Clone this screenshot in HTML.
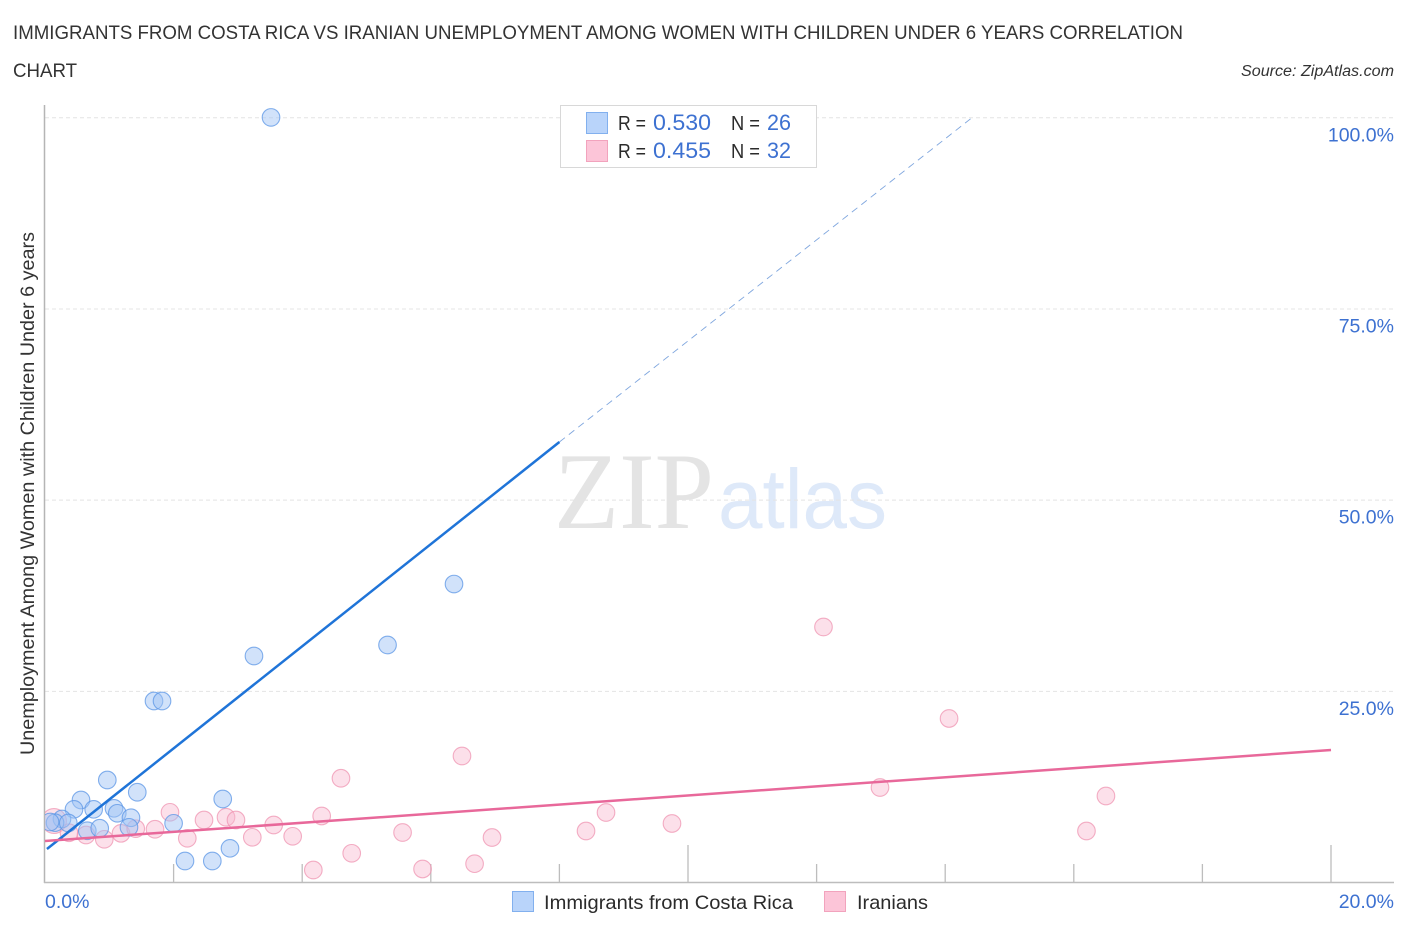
<!DOCTYPE html>
<html lang="en">
<head>
<meta charset="utf-8">
<title>Immigrants from Costa Rica vs Iranian Unemployment Correlation Chart</title>
<style>
html,body{margin:0;padding:0;background:#fff;}
body{width:1406px;height:930px;overflow:hidden;}
svg{display:block;}
text{font-family:"Liberation Sans",sans-serif;}
</style>
</head>
<body>
<svg id="chart" xmlns="http://www.w3.org/2000/svg" width="1406" height="930" viewBox="0 0 1406 930">
  <defs>
    <clipPath id="plot-clip"><rect x="45" y="100" width="1349" height="782"/></clipPath>
  </defs>
  <rect x="0" y="0" width="1406" height="930" fill="#ffffff"/>
  <text x="13" y="39" font-size="19.5" fill="#333333" textLength="1170" lengthAdjust="spacingAndGlyphs">IMMIGRANTS FROM COSTA RICA VS IRANIAN UNEMPLOYMENT AMONG WOMEN WITH CHILDREN UNDER 6 YEARS CORRELATION</text>
  <text x="13" y="77" font-size="19.5" fill="#333333" textLength="64" lengthAdjust="spacingAndGlyphs">CHART</text>
  <text x="1241" y="76" font-size="15.5" font-style="italic" fill="#333333" textLength="153" lengthAdjust="spacingAndGlyphs">Source: ZipAtlas.com</text>
  <g>
    <text x="554" y="528" style="font-family:'Liberation Serif',serif" font-size="109" fill="#e4e4e4" textLength="160" lengthAdjust="spacingAndGlyphs">ZIP</text>
    <text x="718" y="528" font-size="84" fill="#dee9f9" textLength="169" lengthAdjust="spacingAndGlyphs">atlas</text>
  </g>
  <g id="grid"></g>
  <g id="xticks"></g>
  <line x1="44.5" y1="105" x2="44.5" y2="883" stroke="#b5b5b5" stroke-width="1.5"/>
  <line x1="44" y1="882.5" x2="1394" y2="882.5" stroke="#bdbdbd" stroke-width="1.5"/>
  <g id="points" clip-path="url(#plot-clip)"></g>
  <g id="trends"></g>
  <g id="ylabels"></g>
  <g id="xlabels"></g>
  <text transform="translate(34,493.5) rotate(-90)" font-size="19" fill="#333333" text-anchor="middle" textLength="523" lengthAdjust="spacingAndGlyphs">Unemployment Among Women with Children Under 6 years</text>
  <g>
    <rect x="560.5" y="105.5" width="256" height="62" fill="#ffffff" stroke="#d8d8d8" stroke-width="1"/>
    <rect x="586.5" y="112.5" width="21" height="21" fill="#b9d4fa" stroke="#82b0ee" stroke-width="1"/>
    <rect x="586.5" y="140.5" width="21" height="21" fill="#fcc5d8" stroke="#f2a3bd" stroke-width="1"/>
    <text x="618" y="130" font-size="20" fill="#2b2b2b" textLength="28" lengthAdjust="spacingAndGlyphs">R =</text>
    <text x="653" y="130" font-size="22" fill="#3d71d1" textLength="58" lengthAdjust="spacingAndGlyphs">0.530</text>
    <text x="731" y="130" font-size="20" fill="#2b2b2b" textLength="29" lengthAdjust="spacingAndGlyphs">N =</text>
    <text x="767" y="130" font-size="22" fill="#3d71d1" textLength="24" lengthAdjust="spacingAndGlyphs">26</text>
    <text x="618" y="158" font-size="20" fill="#2b2b2b" textLength="28" lengthAdjust="spacingAndGlyphs">R =</text>
    <text x="653" y="158" font-size="22" fill="#3d71d1" textLength="58" lengthAdjust="spacingAndGlyphs">0.455</text>
    <text x="731" y="158" font-size="20" fill="#2b2b2b" textLength="29" lengthAdjust="spacingAndGlyphs">N =</text>
    <text x="767" y="158" font-size="22" fill="#3d71d1" textLength="24" lengthAdjust="spacingAndGlyphs">32</text>
  </g>
  <g>
    <rect x="512.5" y="891.5" width="21" height="20" fill="#b9d4fa" stroke="#82b0ee" stroke-width="1"/>
    <text x="544" y="909" font-size="19.5" fill="#2b2b2b" textLength="249" lengthAdjust="spacingAndGlyphs">Immigrants from Costa Rica</text>
    <rect x="824.5" y="891.5" width="21" height="20" fill="#fcc5d8" stroke="#f2a3bd" stroke-width="1"/>
    <text x="857" y="909" font-size="19.5" fill="#2b2b2b" textLength="71" lengthAdjust="spacingAndGlyphs">Iranians</text>
  </g>
</svg>
<script>
var yTickValues = [25, 50, 75, 100];
var yTickLabels = ["25.0%", "50.0%", "75.0%", "100.0%"];
var xTickValues = [2, 4, 6, 8, 10, 12, 14, 16, 18, 20];
var xTickMajor = [10, 20];
var xEndValues = [0, 20];
var xEndLabels = ["0.0%", "20.0%"];

var costaRicaX = [0.969,1.435,2.764,0.56,0.451,0.757,1.073,1.124,1.337,0.264,0.156,0.362,0.078,0.658,0.851,1.306,2.0,2.177,2.602,2.877,3.515,6.361,5.327,3.25,1.695,1.82];
var costaRicaY = [13.4,11.8,10.92,10.79,9.57,9.57,9.7,9.05,8.47,8.3,7.82,7.78,7.91,6.77,7.09,7.22,7.74,2.81,2.81,4.47,100.05,39.03,31.06,29.62,23.73,23.73];
var costaRicaWeight = [1,1,1,1,1,1,1,1,1,1,1,1,1,1,1,1,1,1,1,1,1,1,1,1,1,1];

var iranianX = [0.14,0.373,0.638,0.922,1.182,1.411,1.711,1.944,2.213,2.473,2.815,2.97,3.224,3.557,3.852,4.303,4.173,4.603,4.77,5.561,5.872,6.485,6.681,6.952,8.414,8.725,9.751,12.107,12.986,14.06,16.197,16.5];
var iranianY = [8.04,6.51,6.21,5.65,6.43,7.04,6.96,9.18,5.78,8.17,8.53,8.17,5.91,7.52,6.04,8.7,1.63,13.63,3.82,6.54,1.77,16.54,2.46,5.88,6.73,9.15,7.72,33.41,12.42,21.45,6.73,11.31];
var iranianWeight = [2,1,1,1,1,1,1,1,1,1,1,1,1,1,1,1,1,1,1,1,1,1,1,1,1,1,1,1,1,1,1,1];

var costaRicaTrendSolidX = [0.03, 8.0];
var costaRicaTrendSolidY = [4.38, 57.6];
var costaRicaTrendDashedX = [8.0, 14.43];
var costaRicaTrendDashedY = [57.6, 100.1];
var iranianTrendX = [0, 20];
var iranianTrendY = [5.43, 17.33];

var SVGNS = "http://www.w3.org/2000/svg";
function xScale(v) { return 45 + v * 64.3; }
function yScale(v) { return 882.5 - v * 7.647; }
function make(tag, parentId, attrs) {
  var el = document.createElementNS(SVGNS, tag);
  for (var k in attrs) { el.setAttribute(k, attrs[k]); }
  document.getElementById(parentId).appendChild(el);
  return el;
}

yTickValues.forEach(function (v, i) {
  var grid = make("line", "grid", { x1: 45, x2: 1394, y1: yScale(v), y2: yScale(v), stroke: "#e4e4e4", "stroke-width": 1, "stroke-dasharray": "4 3" });
  
  
  var label = make("text", "ylabels", { x: 1394, y: yScale(v) + 23.5, "font-size": 19.5, fill: "#3d71d1", "text-anchor": "end" });
  
  
  label.textContent = yTickLabels[i];
});

xTickValues.forEach(function (v) {
  var major = xTickMajor.indexOf(v) >= 0;
  var tick = make("line", "xticks", { x1: xScale(v), x2: xScale(v), y1: major ? 845 : 864, y2: 882, stroke: "#bdbdbd", "stroke-width": 1.3 });
  
  
});

xEndValues.forEach(function (v, i) {
  var label = make("text", "xlabels", { x: i === 0 ? xScale(v) : 1394, y: 908, "font-size": 19.5, fill: "#3d71d1", "text-anchor": i === 0 ? "start" : "end" });
  
  
  label.textContent = xEndLabels[i];
});

function drawSeries(xs, ys, ws, fill, stroke, opacity) {
  xs.forEach(function (x, i) {
    var c = make("circle", "points", {
      cx: xScale(x), cy: yScale(ys[i]), r: 8.8 * Math.sqrt(ws[i]),
      fill: fill, "fill-opacity": opacity, stroke: stroke, "stroke-width": 1.1, "stroke-opacity": 0.75
    });
    
    
  });
}
drawSeries(iranianX, iranianY, iranianWeight, "#f9b6cd", "#ef94b2", 0.42);
drawSeries(costaRicaX, costaRicaY, costaRicaWeight, "#9fc3f5", "#5b96e6", 0.48);

var blueDash = make("line", "trends", {
  x1: xScale(costaRicaTrendDashedX[0]), y1: yScale(costaRicaTrendDashedY[0]),
  x2: xScale(costaRicaTrendDashedX[1]), y2: yScale(costaRicaTrendDashedY[1]),
  stroke: "#7fa6de", "stroke-width": 0.9, "stroke-dasharray": "7 5"
});



var blueLine = make("line", "trends", {
  x1: xScale(costaRicaTrendSolidX[0]), y1: yScale(costaRicaTrendSolidY[0]),
  x2: xScale(costaRicaTrendSolidX[1]), y2: yScale(costaRicaTrendSolidY[1]),
  stroke: "#1f74d8", "stroke-width": 2.5
});



var pinkLine = make("line", "trends", {
  x1: xScale(iranianTrendX[0]), y1: yScale(iranianTrendY[0]),
  x2: xScale(iranianTrendX[1]), y2: yScale(iranianTrendY[1]),
  stroke: "#e8689a", "stroke-width": 2.5
});


</script>
</body>
</html>
